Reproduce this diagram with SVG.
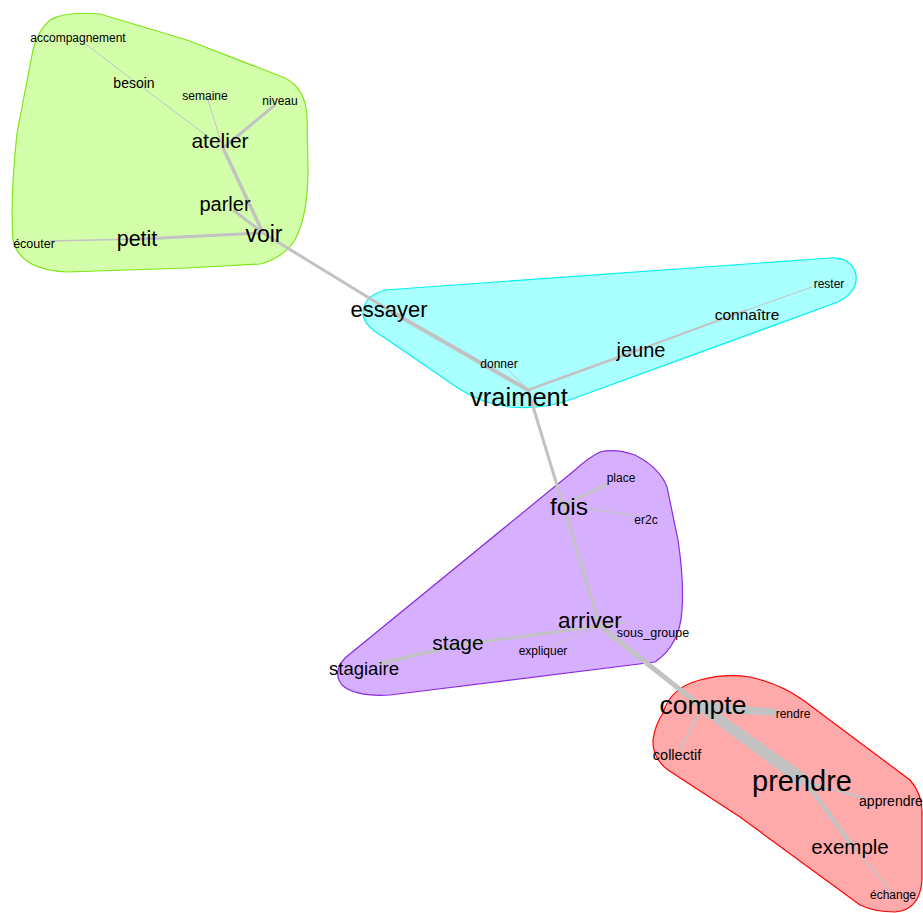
<svg xmlns="http://www.w3.org/2000/svg" width="923" height="913" viewBox="0 0 923 913">
<style>
.e{stroke:#c2c2c2;stroke-linecap:butt;fill:none}
.t{font-family:"Liberation Sans",Arial,sans-serif;fill:#000;text-anchor:middle}
.hull{stroke-width:1.2}
</style>
<rect width="923" height="913" fill="#fff"/>
<g id="hulls">
<path id="hull-green" class="hull" fill="#d4ffaa" stroke="#7fe51a" d="M 50,20 Q 65,11 100,14 L 187,40 L 285,78 Q 305,88 307,115 L 308,170 Q 308,215 295,240 Q 283,258 260,264 L 187,268 L 67,272 Q 20,270 13,240 Q 10,200 17,133 L 33,50 Q 38,30 50,20 Z"/>
<path id="hull-cyan" class="hull" fill="#aaffff" stroke="#00f0f0" d="M 363,312 Q 364,296 385,290 L 830,258 Q 852,257 856,275 Q 858,292 838,302 L 575,398 Q 545,410 510,407 Q 482,404 458,388 Q 420,362 385,338 Q 362,325 363,312 Z"/>
<path id="hull-purple" class="hull" fill="#d6b0ff" stroke="#8a2be2" d="M 600,452 Q 615,448 635,455 Q 660,468 667,487 L 678,540 Q 684,580 682,610 Q 680,645 655,662 L 390,695 Q 355,697 342,685 Q 332,672 345,658 L 575,470 Q 588,458 600,452 Z"/>
<path id="hull-red" class="hull" fill="#ffaaaa" stroke="#ff0000" d="M 663,713 Q 670,688 700,680 Q 725,673 750,677 Q 780,684 803,700 L 910,780 Q 923,795 922,815 L 922,880 Q 920,910 895,912 Q 875,912 860,905 L 740,817 L 668,770 Q 652,758 653,740 Q 655,725 663,713 Z"/>
</g>
<g id="connectors">
<line class="e" x1="83" y1="42" x2="134" y2="81" stroke-width="1"/>
<line class="e" x1="134" y1="81" x2="223" y2="148" stroke-width="1"/>
<line class="e" x1="208" y1="100" x2="223" y2="148" stroke-width="1"/>
<line class="e" x1="275" y1="105" x2="223" y2="148" stroke-width="3"/>
<line class="e" x1="223" y1="148" x2="263" y2="233" stroke-width="3.5"/>
<line class="e" x1="233" y1="210" x2="263" y2="233" stroke-width="3"/>
<line class="e" x1="140" y1="239" x2="263" y2="233" stroke-width="3"/>
<line class="e" x1="50" y1="241" x2="140" y2="239" stroke-width="1.5"/>
<line class="e" x1="263" y1="233" x2="392" y2="312" stroke-width="3"/>
<line class="e" x1="392" y1="312" x2="528" y2="390" stroke-width="4"/>
<line class="e" x1="503" y1="364" x2="528" y2="390" stroke-width="1"/>
<line class="e" x1="528" y1="390" x2="641" y2="349" stroke-width="2.5"/>
<line class="e" x1="641" y1="349" x2="747" y2="310" stroke-width="2"/>
<line class="e" x1="747" y1="310" x2="812" y2="287" stroke-width="1"/>
<line class="e" x1="528" y1="390" x2="563" y2="505" stroke-width="3"/>
<line class="e" x1="563" y1="505" x2="600" y2="626" stroke-width="3"/>
<line class="e" x1="563" y1="505" x2="610" y2="483" stroke-width="2.5"/>
<line class="e" x1="563" y1="505" x2="636" y2="516" stroke-width="1.5"/>
<line class="e" x1="600" y1="626" x2="458" y2="645" stroke-width="3"/>
<line class="e" x1="458" y1="645" x2="378" y2="664" stroke-width="3.5"/>
<line class="e" x1="600" y1="626" x2="550" y2="646" stroke-width="1"/>
<line class="e" x1="600" y1="626" x2="626" y2="622" stroke-width="2"/>
<line class="e" x1="600" y1="626" x2="702" y2="707" stroke-width="5"/>
<polygon fill="#c2c2c2" points="702,702 778,709 778,716 702,712"/>
<line class="e" x1="702" y1="707" x2="680" y2="750" stroke-width="2"/>
<polygon fill="#c2c2c2" points="699,711 705,703 808,776 800,786"/>
<polygon fill="#c2c2c2" points="800,778 809,783 858,850 854,852"/>
<line class="e" x1="805" y1="782" x2="865" y2="798" stroke-width="2"/>
<line class="e" x1="855" y1="850" x2="890" y2="890" stroke-width="1.5"/>
</g>
<g id="nodes">
<g id="n-accompagnement"><text class="t" x="78" y="42" font-size="12">accompagnement</text></g>
<g id="n-besoin"><text class="t" x="134" y="88" font-size="14">besoin</text></g>
<g id="n-semaine"><text class="t" x="205" y="100" font-size="12">semaine</text></g>
<g id="n-niveau"><text class="t" x="280" y="105" font-size="12">niveau</text></g>
<g id="n-atelier"><text class="t" x="220" y="148" font-size="21">atelier</text></g>
<g id="n-parler"><text class="t" x="225" y="211" font-size="20">parler</text></g>
<g id="n-petit"><text class="t" x="137" y="246" font-size="21.5">petit</text></g>
<g id="n-voir"><text class="t" x="264" y="242" font-size="23">voir</text></g>
<g id="n-ecouter"><text class="t" x="34" y="248" font-size="12.5">écouter</text></g>
<g id="n-essayer"><text class="t" x="389" y="317" font-size="22">essayer</text></g>
<g id="n-donner"><text class="t" x="499" y="368" font-size="12">donner</text></g>
<g id="n-vraiment"><text class="t" x="519" y="406" font-size="25.5">vraiment</text></g>
<g id="n-jeune"><text class="t" x="641" y="357" font-size="20">jeune</text></g>
<g id="n-connaitre"><text class="t" x="747" y="320" font-size="15.5">connaître</text></g>
<g id="n-rester"><text class="t" x="829" y="288" font-size="12">rester</text></g>
<g id="n-fois"><text class="t" x="569" y="515" font-size="24.5">fois</text></g>
<g id="n-place"><text class="t" x="621" y="482" font-size="12">place</text></g>
<g id="n-er2c"><text class="t" x="646" y="524" font-size="12">er2c</text></g>
<g id="n-arriver"><text class="t" x="590" y="628" font-size="22.5">arriver</text></g>
<g id="n-sous_groupe"><text class="t" x="653" y="637" font-size="12.5">sous_groupe</text></g>
<g id="n-stage"><text class="t" x="458" y="650" font-size="21">stage</text></g>
<g id="n-expliquer"><text class="t" x="543" y="655" font-size="12">expliquer</text></g>
<g id="n-stagiaire"><text class="t" x="364" y="675" font-size="18.5">stagiaire</text></g>
<g id="n-compte"><text class="t" x="703" y="714" font-size="26.5">compte</text></g>
<g id="n-rendre"><text class="t" x="793" y="718" font-size="12">rendre</text></g>
<g id="n-collectif"><text class="t" x="677" y="760" font-size="14.5">collectif</text></g>
<g id="n-prendre"><text class="t" x="802" y="791" font-size="29">prendre</text></g>
<g id="n-apprendre"><text class="t" x="891" y="806" font-size="14">apprendre</text></g>
<g id="n-exemple"><text class="t" x="850" y="854" font-size="20.5">exemple</text></g>
<g id="n-echange"><text class="t" x="893" y="899" font-size="12">échange</text></g>
</g>
</svg>
